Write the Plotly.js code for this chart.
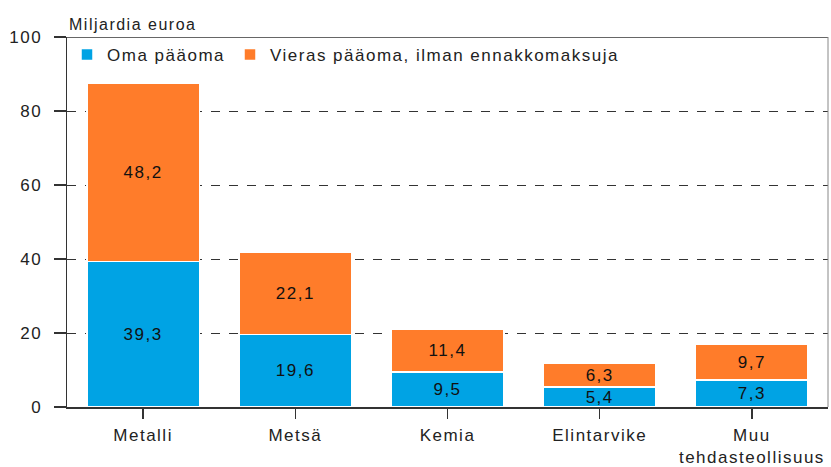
<!DOCTYPE html>
<html><head><meta charset="utf-8">
<script src="https://cdn.plot.ly/plotly-3.0.1.min.js"></script>
<style>body{margin:0;background:#fff}#c{width:831px;height:467px}text{letter-spacing:1.5px}</style>
</head><body><div id="c"></div>
<script>
var categories = ["Metalli", "Metsä", "Kemia", "Elintarvike", "Muu<br>tehdasteollisuus"];
var omaPaaoma = [39.3, 19.6, 9.5, 5.4, 7.3];
var vierasPaaoma = [48.2, 22.1, 11.4, 6.3, 9.7];
var seriesNames = ["Oma pääoma", "Vieras pääoma, ilman ennakkomaksuja"];
var yTicks = [0, 20, 40, 60, 80, 100];

function fmt(v){ return v.toFixed(1).replace('.', ','); }
var fam = "Liberation Sans, Arial, sans-serif";
var font = {family: fam, size: 17, color: "#222"};

var traces = [
  {type: "bar", name: seriesNames[0], x: categories, y: omaPaaoma,
   text: omaPaaoma.map(fmt), textposition: "inside", insidetextanchor: "middle",
   constraintext: "none", textfont: {family: fam, size: 17, color: "#111"},
   marker: {color: "#00a3e4", line: {color: "#fff", width: 1.5}}, hoverinfo: "none"},
  {type: "bar", name: seriesNames[1], x: categories, y: vierasPaaoma,
   text: vierasPaaoma.map(fmt), textposition: "inside", insidetextanchor: "middle",
   constraintext: "none", textfont: {family: fam, size: 17, color: "#111"},
   marker: {color: "#ff7c2a", line: {color: "#fff", width: 1.5}}, hoverinfo: "none"}
];

var layout = {
  width: 831, height: 467, barmode: "stack", bargap: 0.26,
  margin: {l: 67, r: 3, t: 37, b: 60},
  paper_bgcolor: "#fff", plot_bgcolor: "#fff",
  font: font, showlegend: true,
  legend: {x: 0, y: 1.0, xanchor: "left", yanchor: "top", orientation: "h",
    font: {family: fam, size: 17, color: "#222"}, bgcolor: "rgba(0,0,0,0)",
    itemwidth: 30, traceorder: "normal"},
  xaxis: {showline: true, linecolor: "#333", linewidth: 1.5, mirror: false,
    ticks: "outside", ticklen: 10, tickcolor: "#333", tickwidth: 1.5,
    tickfont: font, showgrid: false, zeroline: false, ticklabelstandoff: 2},
  yaxis: {range: [0, 100], tickvals: yTicks, showline: true, linecolor: "#333", linewidth: 1.5,
    ticks: "outside", ticklen: 12, tickcolor: "#333", tickwidth: 1.5, tickfont: font,
    ticklabelstandoff: 8,
    showgrid: true, gridcolor: "#333", griddash: "dash", gridwidth: 1, zeroline: false},
  shapes: [
    {type: "line", xref: "paper", yref: "y", x0: -0.016, x1: 1, y0: 100, y1: 100, line: {color: "#333", width: 1.5}},
    {type: "line", xref: "paper", yref: "paper", x0: 1, x1: 1, y0: 0, y1: 1, line: {color: "#888", width: 1}}
  ],
  annotations: [
    {xref: "paper", yref: "paper", x: 0, y: 1, xanchor: "left", yanchor: "bottom", yshift: 2,
     text: "Miljardia euroa", showarrow: false, font: {family: fam, size: 16, color: "#222"}}
  ]
};
Plotly.newPlot("c", traces, layout, {staticPlot: true, displayModeBar: false});
</script></body></html>
